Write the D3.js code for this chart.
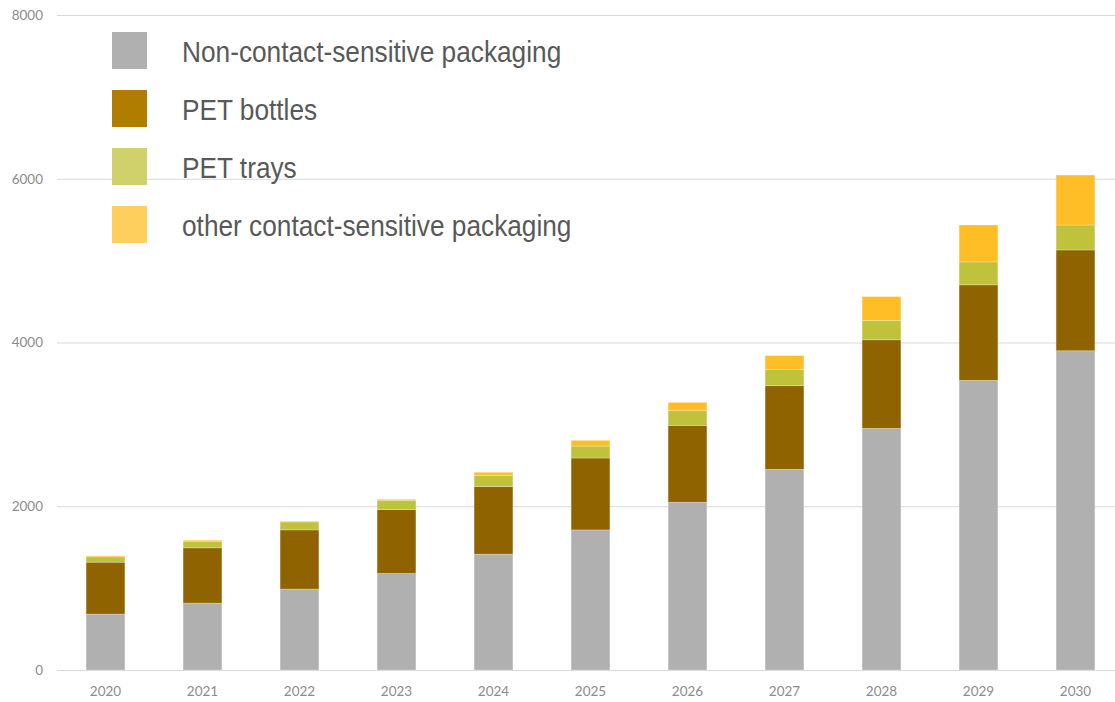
<!DOCTYPE html>
<html>
<head>
<meta charset="utf-8">
<script src="https://cdn.jsdelivr.net/npm/d3@7"></script>
<style>
  body { margin: 0; background: #fff; }
  .tick text { fill: #8c8c8c; font-family: Lato, "Open Sans", sans-serif; font-size: 13.5px; }
  .legendText { fill: #595959; font-family: "Liberation Sans Narrow", "Arial Narrow", "Liberation Sans", sans-serif; font-size: 29px; }
</style>
</head>
<body>
<div id="chart"></div>
<script>
// years and the four stacked series
let years = ["2020","2021","2022","2023","2024","2025","2026","2027","2028","2029","2030"];
let nonContact = [683, 817, 988, 1179, 1415, 1711, 2049, 2451, 2951, 3537, 3899];
let petBottles = [634, 675, 723, 781, 825, 878, 939, 1021, 1082, 1167, 1231];
let petTrays   = [65, 81, 98, 113, 138, 146, 179, 199, 235, 280, 305];
let otherCS    = [12, 12, 8, 12, 37, 70, 101, 170, 293, 451, 610];
let yTicks = [0, 2000, 4000, 6000, 8000];

let seriesNames = ["Non-contact-sensitive packaging", "PET bottles", "PET trays", "other contact-sensitive packaging"];
let barColors = ["#b0b0b0", "#8f6400", "#bfc23a", "#ffbe26"];
let legendColors = ["#b0b0b0", "#b07d00", "#d0d16a", "#ffcf5e"];

let width = 1115, height = 702;

let svg = d3.select("#chart").append("svg")
    .attr("width", width)
    .attr("height", height);

let rows = years.map(function(y, i){
    return { year: y, s0: nonContact[i], s1: petBottles[i], s2: petTrays[i], s3: otherCS[i] };
});
let stacked = d3.stack().keys(["s0","s1","s2","s3"])(rows);

let xScale = d3.scaleBand().domain(years).range([57, 1124]).paddingInner(0.6).paddingOuter(0.3);
let yScale = d3.scaleLinear().domain([0, 8000]).range([670, 15]);

// gridlines + y labels
let yAxis = d3.axisLeft(yScale).tickValues(yTicks).tickSize(-(width - 57)).tickPadding(14).tickFormat(d3.format("d"));
let yG = svg.append("g").attr("transform", "translate(57,0)").call(yAxis);
yG.select(".domain").remove();
yG.selectAll(".tick line").attr("stroke", "#d9d9d9").attr("stroke-width", 1.2);

let xAxis = d3.axisBottom(xScale).tickSize(0).tickPadding(16);
let xG = svg.append("g").attr("transform", "translate(0,670)").call(xAxis);
xG.select(".domain").remove();

svg.append("g").selectAll("g").data(stacked).enter().append("g")
    .attr("fill", function(d, i){ return barColors[i]; })
    .selectAll("rect").data(function(d){ return d; }).enter().append("rect")
    .attr("x", function(d){ return xScale(d.data.year); })
    .attr("width", xScale.bandwidth())
    .attr("y", function(d){ return yScale(d[1]); })
    .attr("height", function(d){ return yScale(d[0]) - yScale(d[1]); })
    .attr("stroke", "rgba(255,255,255,0.35)")
    .attr("stroke-width", 0.7);

// legend (text squeezed to look like a narrow face)
let legend = svg.append("g").attr("transform", "translate(112,32)");
let items = legend.selectAll("g").data(seriesNames).enter().append("g")
    .attr("transform", function(d, i){ return "translate(0," + (i * 58) + ")"; });
items.append("rect").attr("width", 35).attr("height", 37)
    .attr("fill", function(d, i){ return legendColors[i]; });
items.append("text").attr("class", "legendText")
    .attr("transform", "translate(70,0) scale(0.905,1.04)")
    .attr("y", 18).attr("dy", "0.36em")
    .text(function(d){ return d; });
</script>
</body>
</html>
